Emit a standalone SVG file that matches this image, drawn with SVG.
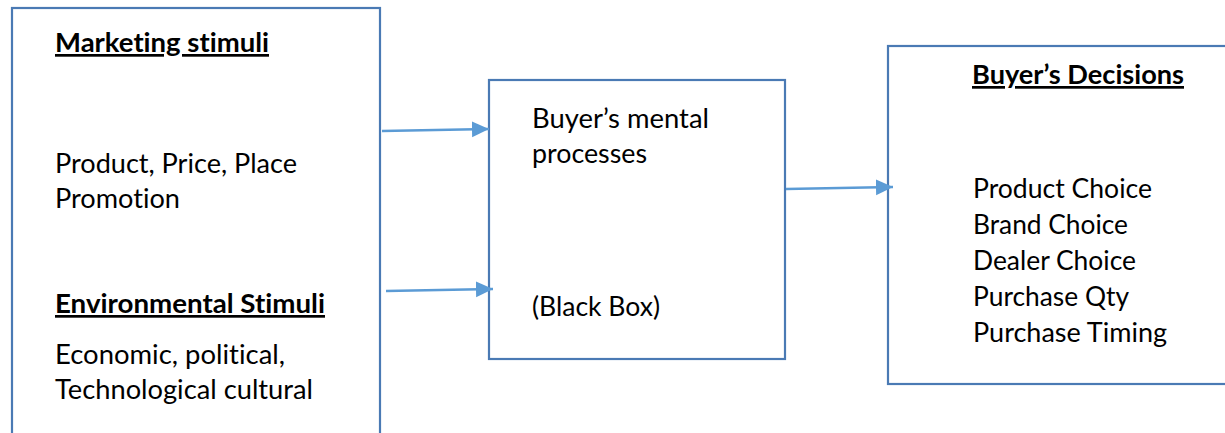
<svg xmlns="http://www.w3.org/2000/svg" width="1225" height="433" viewBox="0 0 1225 433">
  <style>
    .box { fill: #ffffff; stroke: #4a7ab4; stroke-width: 2.2; }
    .link { fill: none; stroke: #5b9bd5; stroke-width: 2.4; }
    .txt { font-family: Lato, "Liberation Sans", sans-serif; font-size: 27px; fill: #000000; font-variant-ligatures: none; }
    .head { font-family: Lato, "Liberation Sans", sans-serif; font-size: 27px; font-weight: bold; fill: #000000; text-decoration: underline; font-variant-ligatures: none; }
  </style>
  <defs>
    <marker id="arrow" markerUnits="userSpaceOnUse" markerWidth="18" markerHeight="18" viewBox="0 0 18 18" refX="17" refY="9" orient="auto">
      <path d="M0,1 L17,9 L0,17 Z" fill="#5b9bd5"/>
    </marker>
  </defs>

  <rect width="1225" height="433" fill="#ffffff"/>

  <!-- Stimuli -->
  <g id="stimuli">
    <rect class="box" x="12" y="8" width="368" height="450"/>
    <text class="head" x="55" y="52" textLength="214" lengthAdjust="spacingAndGlyphs">Marketing stimuli</text>
    <text class="txt" x="55" y="173" textLength="242" lengthAdjust="spacingAndGlyphs">Product, Price, Place</text>
    <text class="txt" x="55" y="208" textLength="125" lengthAdjust="spacingAndGlyphs">Promotion</text>
    <text class="head" x="55" y="313" textLength="270" lengthAdjust="spacingAndGlyphs">Environmental Stimuli</text>
    <text class="txt" x="55" y="364" textLength="230" lengthAdjust="spacingAndGlyphs">Economic, political,</text>
    <text class="txt" x="55" y="399" textLength="258" lengthAdjust="spacingAndGlyphs">Technological cultural</text>
  </g>

  <!-- Black box -->
  <g id="black-box">
    <rect class="box" x="489" y="80" width="296" height="279"/>
    <text class="txt" x="532" y="128" textLength="177" lengthAdjust="spacingAndGlyphs">Buyer’s mental</text>
    <text class="txt" x="532" y="163" textLength="115" lengthAdjust="spacingAndGlyphs">processes</text>
    <text class="txt" x="532" y="316" textLength="128" lengthAdjust="spacingAndGlyphs">(Black Box)</text>
  </g>

  <!-- Decisions -->
  <g id="decisions">
    <rect class="box" x="888" y="46" width="400" height="338"/>
    <text class="head" x="972" y="84" textLength="212" lengthAdjust="spacingAndGlyphs">Buyer’s Decisions</text>
    <text class="txt" x="973" y="198" textLength="179" lengthAdjust="spacingAndGlyphs">Product Choice</text>
    <text class="txt" x="973" y="234" textLength="155" lengthAdjust="spacingAndGlyphs">Brand Choice</text>
    <text class="txt" x="973" y="270" textLength="163" lengthAdjust="spacingAndGlyphs">Dealer Choice</text>
    <text class="txt" x="973" y="306" textLength="156" lengthAdjust="spacingAndGlyphs">Purchase Qty</text>
    <text class="txt" x="973" y="342" textLength="194" lengthAdjust="spacingAndGlyphs">Purchase Timing</text>
  </g>

  <!-- Connectors -->
  <g id="connectors">
    <line class="link" x1="382" y1="131" x2="489" y2="129" marker-end="url(#arrow)"/>
    <line class="link" x1="386" y1="291" x2="493" y2="289" marker-end="url(#arrow)"/>
    <line class="link" x1="786" y1="189" x2="893" y2="187" marker-end="url(#arrow)"/>
  </g>
</svg>
